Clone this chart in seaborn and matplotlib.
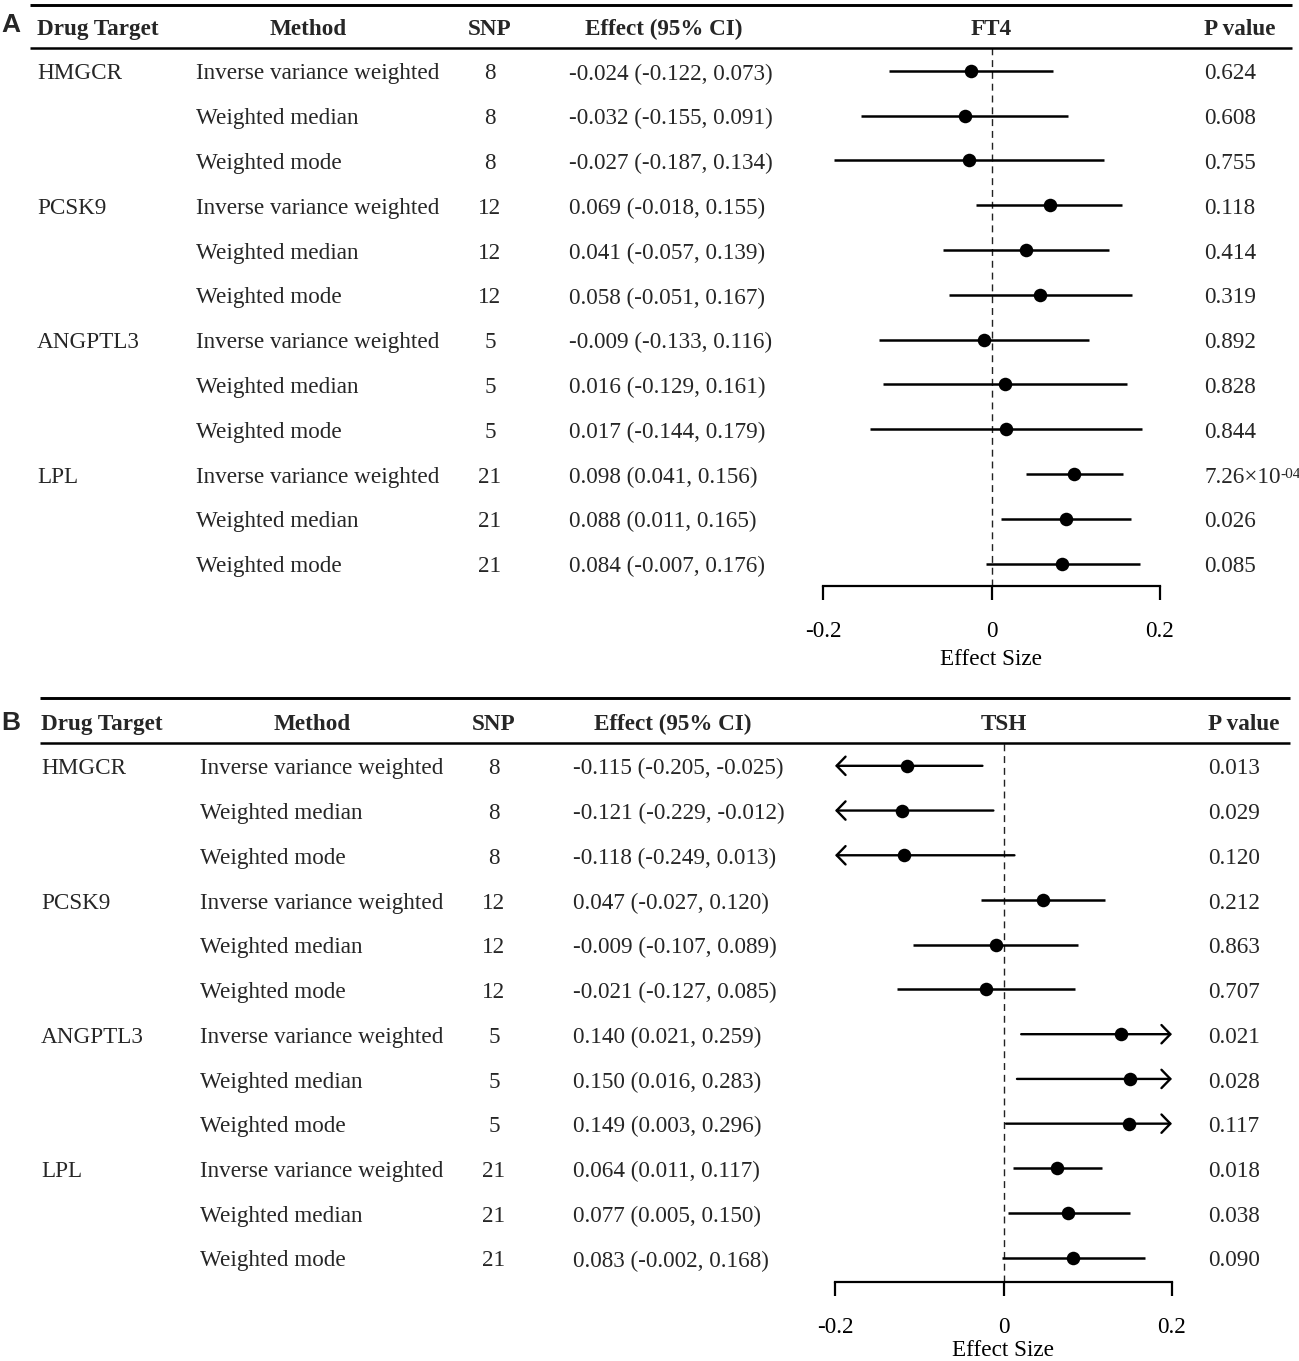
import numpy as np
import pandas as pd
import seaborn as sns
import matplotlib.pyplot as plt
from matplotlib.transforms import blended_transform_factory

# %%
# data
targets = ["HMGCR", "PCSK9", "ANGPTL3", "LPL"]
methods = ["Inverse variance weighted", "Weighted median", "Weighted mode"]
snp_counts = [8, 12, 5, 21]

ft4_est = [-0.024, -0.032, -0.027, 0.069, 0.041, 0.058, -0.009, 0.016, 0.017, 0.098, 0.088, 0.084]
ft4_lo = [-0.122, -0.155, -0.187, -0.018, -0.057, -0.051, -0.133, -0.129, -0.144, 0.041, 0.011, -0.007]
ft4_hi = [0.073, 0.091, 0.134, 0.155, 0.139, 0.167, 0.116, 0.161, 0.179, 0.156, 0.165, 0.176]
ft4_p = ["0.624", "0.608", "0.755", "0.118", "0.414", "0.319", "0.892", "0.828", "0.844",
         "7.26×10|-04", "0.026", "0.085"]

tsh_est = [-0.115, -0.121, -0.118, 0.047, -0.009, -0.021, 0.140, 0.150, 0.149, 0.064, 0.077, 0.083]
tsh_lo = [-0.205, -0.229, -0.249, -0.027, -0.107, -0.127, 0.021, 0.016, 0.003, 0.011, 0.005, -0.002]
tsh_hi = [-0.025, -0.012, 0.013, 0.120, 0.089, 0.085, 0.259, 0.283, 0.296, 0.117, 0.150, 0.168]
tsh_p = ["0.013", "0.029", "0.120", "0.212", "0.863", "0.707", "0.021", "0.028", "0.117",
         "0.018", "0.038", "0.090"]

xticks = [-0.2, 0, 0.2]
xtick_labels = ["-0.2", "0", "0.2"]


def make_df(est, lo, hi, p):
    df = pd.DataFrame({
        "target": np.repeat(targets, 3),
        "method": methods * 4,
        "snp": np.repeat(snp_counts, 3),
        "est": est, "lo": lo, "hi": hi, "p": p,
    })
    df["row"] = np.arange(len(df))
    df["ci"] = [f"{e:.3f} ({l:.3f}, {h:.3f})" for e, l, h in zip(est, lo, hi)]
    return df


# %%
sns.set_theme(style="white")
plt.rcParams["font.family"] = ["Liberation Serif", "DejaVu Serif"]
plt.rcParams["axes.unicode_minus"] = False

W, H = 1299, 1361
fig = plt.figure(figsize=(W / 100, H / 100), dpi=100)
FS = 16.7
DY = 0.07  # nudge text down so the glyphs sit on the row centre


def draw_panel(df, label, title, box, ylim, cols, rule_top, rule_x, xlabelpad):
    # box: pixel (x0, x1, y_top, y_bottom) of the forest area
    x0, x1, yt, yb = box
    ax = fig.add_axes([x0 / W, 1 - yb / H, (x1 - x0) / W, (yb - yt) / H])
    ax.set_xlim(-0.2, 0.2)
    ax.set_ylim(*ylim)

    # CI lines, clipped ones get an arrow
    for _, r in df.iterrows():
        lo, hi = max(r["lo"], -0.2), min(r["hi"], 0.2)
        if r["lo"] < -0.2 or r["hi"] > 0.2:
            if r["lo"] < -0.2:
                tip, tail = lo, hi
            else:
                tip, tail = hi, lo
            ax.annotate("", xy=(tip, r["row"]), xytext=(tail, r["row"]),
                        arrowprops=dict(arrowstyle="->,head_length=0.32,head_width=0.33",
                                        lw=1.7, color="black", shrinkA=0, shrinkB=0,
                                        mutation_scale=20),
                        annotation_clip=False)
        else:
            ax.hlines(r["row"], lo, hi, color="black", lw=1.8, clip_on=False)
    ax.axvline(0, color="#222222", lw=1.0, ls=(0, (5, 3.5)), zorder=0)
    sns.scatterplot(data=df, x="est", y="row", color="black", s=95, linewidth=0,
                    ax=ax, zorder=3, clip_on=False, legend=False)

    for s in ["top", "left", "right"]:
        ax.spines[s].set_visible(False)
    ax.spines["bottom"].set_linewidth(1.6)
    ax.spines["bottom"].set_color("black")
    ax.set_xticks(xticks)
    ax.set_xticklabels(xtick_labels)
    ax.set_yticks([])
    ax.tick_params(axis="x", bottom=True, length=10, width=1.6, color="black",
                   pad=15, labelsize=FS, labelcolor="black")
    ax.set_xlabel("Effect Size", fontsize=FS, labelpad=xlabelpad, color="black")
    ax.set_ylabel("")

    tr = blended_transform_factory(fig.transFigure, ax.transData)
    fx = lambda v: v / W

    # header
    hy = -1 + DY
    ax.text(fx(cols["target"]), hy, "Drug Target", transform=tr, fontsize=FS,
            fontweight="bold", va="center", ha="left")
    ax.text(fx(cols["method_h"]), hy, "Method", transform=tr, fontsize=FS,
            fontweight="bold", va="center", ha="center")
    ax.text(fx(cols["snp"]), hy, "SNP", transform=tr, fontsize=FS,
            fontweight="bold", va="center", ha="center")
    ax.text(fx(cols["ci_h"]), hy, "Effect (95% CI)", transform=tr, fontsize=FS,
            fontweight="bold", va="center", ha="center")
    ax.text(0, hy, title, transform=ax.transData, fontsize=FS,
            fontweight="bold", va="center", ha="center")
    ax.text(fx(cols["p"]), hy, "P value", transform=tr, fontsize=FS,
            fontweight="bold", va="center", ha="left")
    ax.text(fx(cols["letter"]), -1 + cols["letter_dy"], label, transform=tr, fontsize=19,
            fontweight="bold", family="Liberation Sans", va="center", ha="left")

    # rules
    ax.plot([fx(rule_x[0]), fx(rule_x[1])], [rule_top, rule_top], transform=tr,
            color="black", lw=2.1, clip_on=False, solid_capstyle="butt")
    ax.plot([fx(rule_x[0]), fx(rule_x[1])], [ylim[1], ylim[1]], transform=tr,
            color="black", lw=1.8, clip_on=False, solid_capstyle="butt")

    # body
    for _, r in df.iterrows():
        y = r["row"] + DY
        if r["method"] == methods[0]:
            ax.text(fx(cols["target"]), y, r["target"], transform=tr, fontsize=FS,
                    va="center", ha="left")
        ax.text(fx(cols["method"]), y, r["method"], transform=tr, fontsize=FS,
                va="center", ha="left")
        ax.text(fx(cols["snp"]), y, str(r["snp"]), transform=tr, fontsize=FS,
                va="center", ha="center")
        ax.text(fx(cols["ci"]), y, r["ci"], transform=tr, fontsize=FS,
                va="center", ha="left")
        if "|" in r["p"]:
            base, sup = r["p"].split("|")
            t = ax.text(fx(cols["p"]), y, base, transform=tr, fontsize=FS,
                        va="center", ha="left")
            ax.annotate(sup, xy=(1, 1), xycoords=t, xytext=(0, -1),
                        textcoords="offset points", fontsize=11, va="top", ha="left")
        else:
            ax.text(fx(cols["p"]), y, r["p"], transform=tr, fontsize=FS,
                    va="center", ha="left")
    return ax


df_a = make_df(ft4_est, ft4_lo, ft4_hi, ft4_p)
df_b = make_df(tsh_est, tsh_lo, tsh_hi, tsh_p)

cols_a = dict(letter=1, letter_dy=-0.02, target=37, method_h=308, method=196, snp=490,
              ci_h=664, ci=569, p=1204)
cols_b = dict(letter=1, letter_dy=0.05, target=41, method_h=312, method=200, snp=494,
              ci_h=673, ci=573, p=1208)

draw_panel(df_a, "A", "FT4", (823, 1160, 48, 586), (11.5, -0.51), cols_a, -1.48, (30, 1292), 5)
draw_panel(df_b, "B", "TSH", (835, 1172, 743, 1282), (11.54, -0.51), cols_b, -1.52, (40, 1290), 2)

fig.savefig("out.png", dpi=100, facecolor="white")
